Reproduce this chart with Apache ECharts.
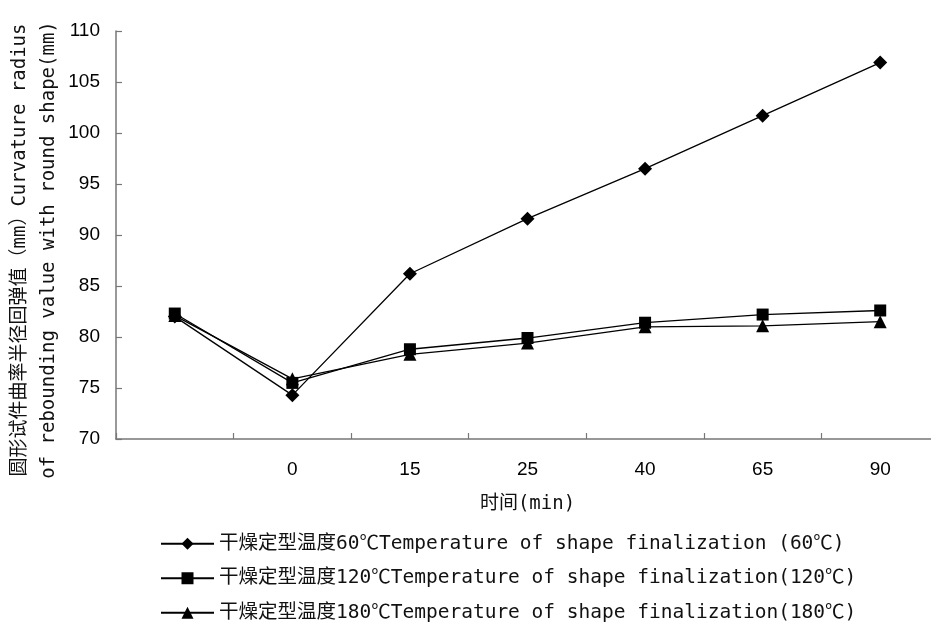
<!DOCTYPE html>
<html>
<head>
<meta charset="utf-8">
<script src="https://cdn.jsdelivr.net/npm/echarts@6/dist/echarts.min.js"></script>
<style>
html,body{margin:0;padding:0;background:#fff;}
#chart{width:931px;height:623px;}
</style>
</head>
<body>
<div id="chart"></div>
<script>
// Data
var categories = ['', '0', '15', '25', '40', '65', '90'];
var seriesNames = [
  '干燥定型温度60℃Temperature of shape finalization (60℃)',
  '干燥定型温度120℃Temperature of shape finalization(120℃)',
  '干燥定型温度180℃Temperature of shape finalization(180℃)'
];
var values60 = [82.0, 74.3, 86.2, 91.6, 96.5, 101.7, 106.9];
var values120 = [82.3, 75.5, 78.8, 79.9, 81.4, 82.2, 82.6];
var values180 = [82.1, 75.9, 78.3, 79.4, 81.0, 81.1, 81.5];
var yTicks = { min: 70, max: 110, interval: 5 };
var yAxisName = '圆形试件曲率半径回弹值（mm）Curvature radius\nof rebounding value with round shape(mm)';
var xAxisName = '时间(min)';

var monoFont = '"DejaVu Sans Mono", "Noto Sans CJK SC", monospace';
var sansFont = '"Liberation Sans", Arial, sans-serif';
var axisColor = '#777777';

var chart = echarts.init(document.getElementById('chart'), null, { renderer: 'canvas' });

var diamond = 'path://M0,-1L1,0L0,1L-1,0Z';

function mkSeries(name, data, symbol, size) {
  return {
    name: name,
    type: 'line',
    data: data,
    symbol: symbol,
    symbolSize: size,
    showAllSymbol: true,
    lineStyle: { color: '#000', width: 1.3 },
    itemStyle: { color: '#000', borderWidth: 0 },
    emphasis: { disabled: true },
    animation: false,
    z: 3
  };
}

var option = {
  animation: false,
  backgroundColor: '#fff',
  grid: { left: 116, right: -8, top: 31, bottom: 184, containLabel: false, outerBoundsMode: 'none' },
  legend: {
    orient: 'vertical',
    left: 155,
    top: 529,
    width: 760,
    height: 130,
    itemGap: 15,
    itemWidth: 53,
    itemHeight: 15,
    data: seriesNames,
    textStyle: { fontFamily: monoFont, fontSize: 19.5, color: '#111' },
    selectedMode: false
  },
  xAxis: {
    type: 'category',
    data: categories,
    boundaryGap: true,
    name: xAxisName,
    nameLocation: 'middle',
    nameGap: 56,
    nameMoveOverlap: false,
    nameTextStyle: { fontFamily: monoFont, fontSize: 19, color: '#111' },
    axisLine: { show: true, lineStyle: { color: axisColor, width: 1.5 } },
    axisTick: { show: true, inside: true, length: 6, lineStyle: { color: axisColor, width: 1.2 } },
    axisLabel: { fontFamily: sansFont, fontSize: 19, color: '#000', margin: 21 },
    splitLine: { show: false }
  },
  yAxis: {
    type: 'value',
    min: yTicks.min,
    max: yTicks.max,
    interval: yTicks.interval,
    name: yAxisName,
    nameLocation: 'middle',
    nameGap: 52,
    nameMoveOverlap: false,
    nameRotate: 90,
    nameTextStyle: { fontFamily: monoFont, fontSize: 19, color: '#111', lineHeight: 29, padding: [0, 30, 0, 0] },
    axisLine: { show: true, lineStyle: { color: axisColor, width: 1.5 } },
    axisTick: { show: true, inside: true, length: 6, lineStyle: { color: axisColor, width: 1.2 } },
    axisLabel: { fontFamily: sansFont, fontSize: 19, color: '#000', margin: 16 },
    splitLine: { show: false }
  },
  series: [
    mkSeries(seriesNames[0], values60, diamond, 14),
    mkSeries(seriesNames[1], values120, 'rect', 12),
    mkSeries(seriesNames[2], values180, 'triangle', 13)
  ]
};

chart.setOption(option);
</script>
</body>
</html>
